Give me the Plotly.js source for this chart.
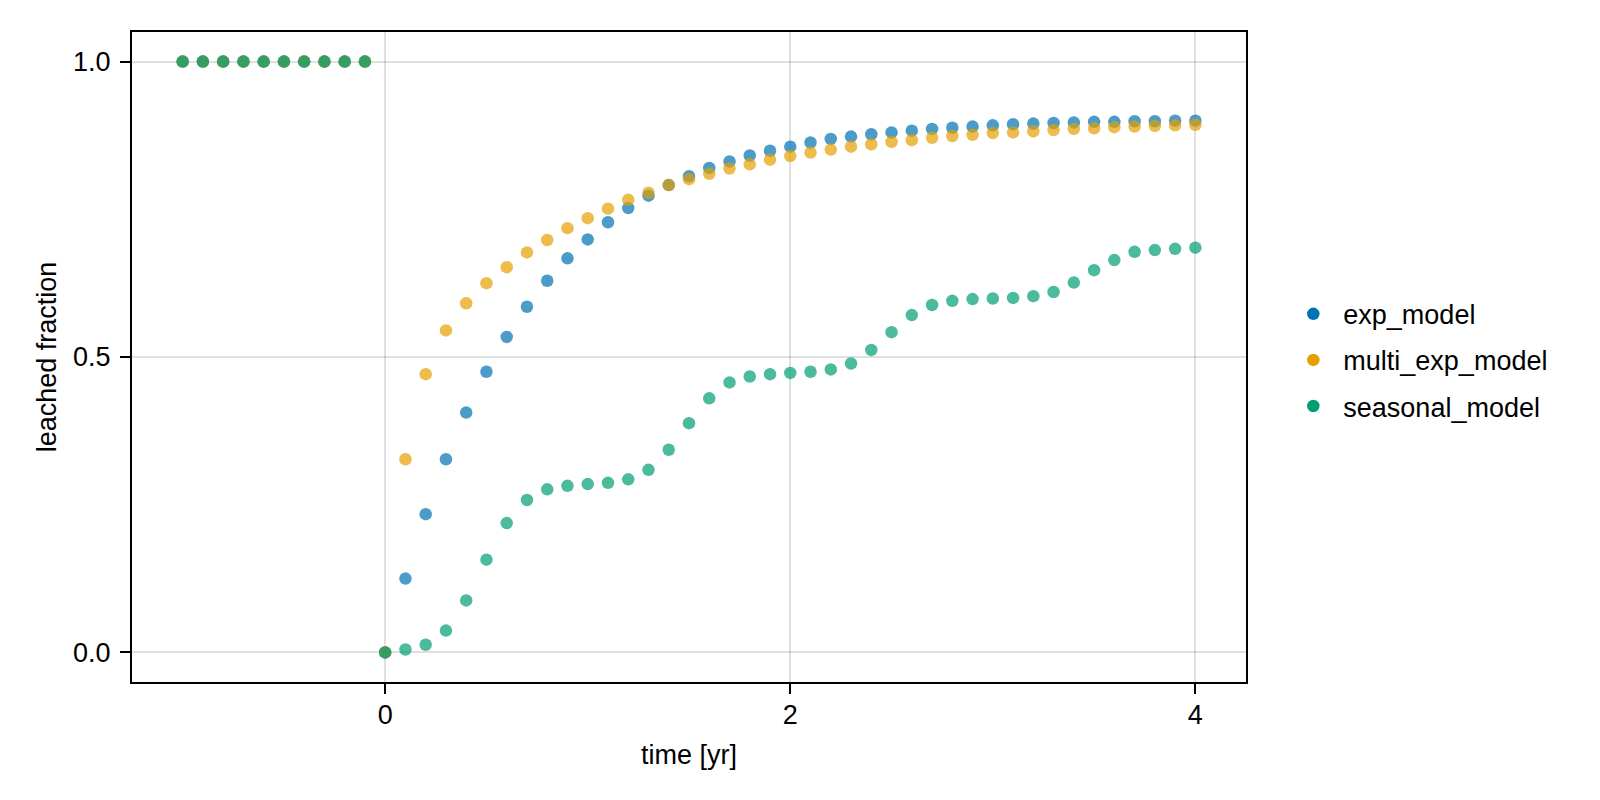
<!DOCTYPE html>
<html>
<head>
<meta charset="utf-8">
<script src="https://cdn.plot.ly/plotly-3.0.1.min.js"></script>
<style>html,body{margin:0;padding:0;background:#fff;}#chart{width:1600px;height:800px;}</style>
</head>
<body>
<div id="chart"></div>
<script>
const time = [-1.0,-0.9,-0.8,-0.7,-0.6,-0.5,-0.4,-0.3,-0.2,-0.1,
  0.0,0.1,0.2,0.3,0.4,0.5,0.6,0.7,0.8,0.9,
  1.0,1.1,1.2,1.3,1.4,1.5,1.6,1.7,1.8,1.9,
  2.0,2.1,2.2,2.3,2.4,2.5,2.6,2.7,2.8,2.9,
  3.0,3.1,3.2,3.3,3.4,3.5,3.6,3.7,3.8,3.9,4.0];

const exp_model = [1,1,1,1,1,1,1,1,1,1,
  0.000,0.125,0.234,0.327,0.406,0.475,0.534,0.585,0.629,0.667,
  0.699,0.728,0.752,0.773,0.791,0.806,0.820,0.831,0.841,0.849,
  0.856,0.863,0.869,0.873,0.877,0.880,0.883,0.886,0.888,0.890,
  0.892,0.894,0.895,0.896,0.897,0.898,0.898,0.899,0.899,0.900,0.900];

const multi_exp_model = [1,1,1,1,1,1,1,1,1,1,
  0.000,0.327,0.471,0.545,0.591,0.625,0.652,0.677,0.698,0.718,
  0.735,0.751,0.766,0.778,0.791,0.801,0.810,0.819,0.826,0.834,
  0.840,0.846,0.851,0.856,0.860,0.864,0.867,0.871,0.874,0.876,
  0.879,0.880,0.882,0.884,0.886,0.887,0.889,0.890,0.891,0.892,0.893];

const seasonal_model = [1,1,1,1,1,1,1,1,1,1,
  0.000,0.005,0.013,0.037,0.088,0.157,0.219,0.258,0.276,0.282,
  0.285,0.287,0.293,0.309,0.343,0.388,0.430,0.457,0.467,0.471,
  0.473,0.475,0.479,0.489,0.512,0.542,0.571,0.588,0.595,0.598,
  0.599,0.600,0.603,0.610,0.626,0.647,0.664,0.678,0.681,0.683,0.685];

const series_names = ["exp_model", "multi_exp_model", "seasonal_model"];
const series_values = [exp_model, multi_exp_model, seasonal_model];
const series_rgb = ["0,114,178", "230,159,0", "0,158,115"];

const x_tickvals = [0, 2, 4];
const x_ticktext = ["0", "2", "4"];
const y_tickvals = [0, 0.5, 1];
const y_ticktext = ["0.0", "0.5", "1.0"];

const FONT = "'Liberation Sans', Arial, Helvetica, sans-serif";
const traces = [];
series_names.forEach((name, i) => {
  traces.push({
    type: "scatter", mode: "markers", x: time, y: series_values[i],
    name: name, showlegend: false, hoverinfo: "skip",
    marker: {size: 12.5, color: "rgba(" + series_rgb[i] + ",0.7)", line: {width: 0}}
  });
});
series_names.forEach((name, i) => {
  traces.push({
    type: "scatter", mode: "markers", x: [null], y: [null],
    name: name, showlegend: true, legendgroup: "g" + i,
    marker: {size: 12.5, color: "rgb(" + series_rgb[i] + ")", line: {width: 0}}
  });
});

const axisCommon = {
  showline: true, mirror: true, linecolor: "#000", linewidth: 2,
  ticks: "outside", ticklen: 10, tickwidth: 2, tickcolor: "#000",
  showgrid: true, gridcolor: "rgba(0,0,0,0.12)", gridwidth: 2,
  zeroline: false, tickmode: "array",
  tickfont: {family: FONT, size: 27, color: "#000"}
};

const layout = {
  width: 1600, height: 800,
  paper_bgcolor: "#fff", plot_bgcolor: "#fff",
  margin: {l: 132, r: 354, t: 32, b: 118, pad: 0},
  font: {family: FONT, color: "#000"},
  xaxis: Object.assign({}, axisCommon, {
    range: [-1.25, 4.25], tickvals: x_tickvals, ticktext: x_ticktext,
    ticklabelstandoff: -2,
    title: {text: "time [yr]", font: {family: FONT, size: 27, color: "#000"}, standoff: 16}
  }),
  yaxis: Object.assign({}, axisCommon, {
    range: [-0.05, 1.05], tickvals: y_tickvals, ticktext: y_ticktext,
    ticklabelstandoff: 4,
    title: {text: "leached fraction", font: {family: FONT, size: 27, color: "#000"}, standoff: 9}
  }),
  showlegend: true,
  legend: {
    x: 1.0335, xanchor: "left", y: 0.495, yanchor: "middle",
    font: {family: FONT, size: 27, color: "#000"},
    bgcolor: "rgba(0,0,0,0)", borderwidth: 0,
    traceorder: "grouped", tracegroupgap: 8, itemwidth: 50
  }
};

Plotly.newPlot("chart", traces, layout, {displayModeBar: false, staticPlot: true});
</script>
</body>
</html>
